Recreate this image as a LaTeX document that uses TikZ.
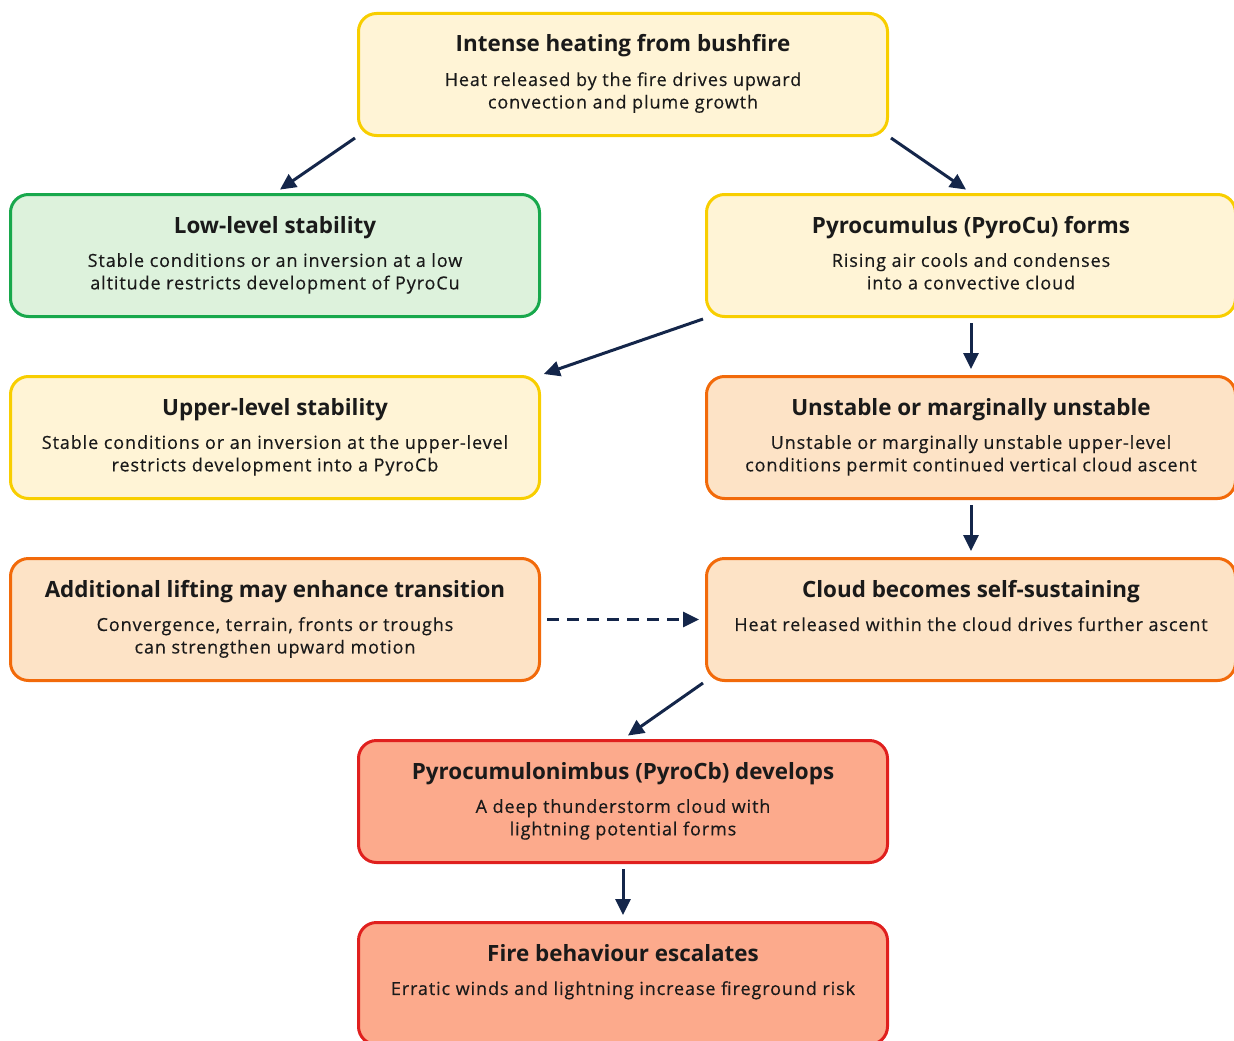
\documentclass[tikz,border=0pt]{standalone}
\usepackage{fontspec}
\setmainfont{Open Sans}
\newfontfamily\subfont[LetterSpace=5,FakeBold=0.4]{Open Sans}
\usetikzlibrary{arrows.meta}
\definecolor{ybd}{HTML}{F8CE00}\definecolor{yfl}{HTML}{FFF4D6}
\definecolor{gbd}{HTML}{18A84C}\definecolor{gfl}{HTML}{DDF2DC}
\definecolor{obd}{HTML}{F26A0A}\definecolor{ofl}{HTML}{FDE3C6}
\definecolor{rbd}{HTML}{E0201E}\definecolor{rfl}{HTML}{FCAA8C}
\definecolor{navy}{HTML}{14264A}\definecolor{txt}{HTML}{1A1A1A}
\begin{document}
\begin{tikzpicture}[x=1pt,y=-1pt,
  box/.style={draw, rounded corners=18pt, line width=3pt, minimum width=529pt, minimum height=122pt, inner sep=0pt, anchor=north west},
  ybox/.style={box, draw=ybd, fill=yfl},
  gbox/.style={box, draw=gbd, fill=gfl},
  obox/.style={box, draw=obd, fill=ofl},
  rbox/.style={box, draw=rbd, fill=rfl},
  ttl/.style={font=\fontsize{22.4}{26}\selectfont\bfseries, text=txt, anchor=base, inner sep=0pt},
  sub/.style={font=\subfont\fontsize{18}{22.5}\selectfont, text=txt, anchor=north, inner sep=0pt, align=center},
  arr/.style={draw=navy, line width=3pt, -{Stealth[length=16pt,width=15pt,inset=0pt]}, shorten >=6pt}
]
\useasboundingbox (0,0) rectangle (1234,1041);
\node[ybox] (heat) at (357,12) {};
\node[gbox] (low) at (9,193) {};
\node[ybox] (cu) at (705,193) {};
\node[ybox] (upper) at (9,375) {};
\node[obox] (unst) at (705,375) {};
\node[obox] (lift) at (9,557) {};
\node[obox] (self) at (705,557) {};
\node[rbox] (cb) at (357,739) {};
\node[rbox] (esc) at (357,921) {};

\foreach \n/\t/\s in {
 heat/{Intense heating from bushfire}/{Heat released by the fire drives upward\\convection and plume growth},
 low/{Low-level stability}/{Stable conditions or an inversion at a low\\altitude restricts development of PyroCu},
 cu/{Pyrocumulus (PyroCu) forms}/{Rising air cools and condenses\\into a convective cloud},
 upper/{Upper-level stability}/{Stable conditions or an inversion at the upper-level\\restricts development into a PyroCb},
 unst/{Unstable or marginally unstable}/{Unstable or marginally unstable upper-level\\conditions permit continued vertical cloud ascent},
 lift/{Additional lifting may enhance transition}/{Convergence, terrain, fronts or troughs\\can strengthen upward motion},
 self/{Cloud becomes self-sustaining}/{Heat released within the cloud drives further ascent},
 cb/{Pyrocumulonimbus (PyroCb) develops}/{A deep thunderstorm cloud with\\lightning potential forms},
 esc/{Fire behaviour escalates}/{Erratic winds and lightning increase fireground risk}}
{
 \node[ttl] (\n-t) at ([yshift=-40pt]\n.north) {\t};
 \node[sub] (\n-s) at ([yshift=-60pt]\n.north) {\s};
}

\draw[arr] ([xshift=-2pt,yshift=-1pt]heat.south west) -- (low.north);
\draw[arr] ([xshift=2pt,yshift=-1pt]heat.south east) -- (cu.north);
\draw[arr, shorten >=3pt] ([xshift=-2pt,yshift=-1pt]cu.south west) -- (upper.north east);
\draw[arr, shorten <=5pt] (cu.south) -- (unst.north);
\draw[arr, shorten <=5pt] (unst.south) -- (self.north);
\draw[arr, dashed, dash pattern=on 12pt off 8pt, shorten <=6pt] (lift.east) -- (self.east -| self.west);
\draw[arr] ([xshift=-2pt,yshift=-1pt]self.south west) -- (cb.north);
\draw[arr, shorten <=5pt] (cb.south) -- (esc.north);
\end{tikzpicture}
\end{document}
